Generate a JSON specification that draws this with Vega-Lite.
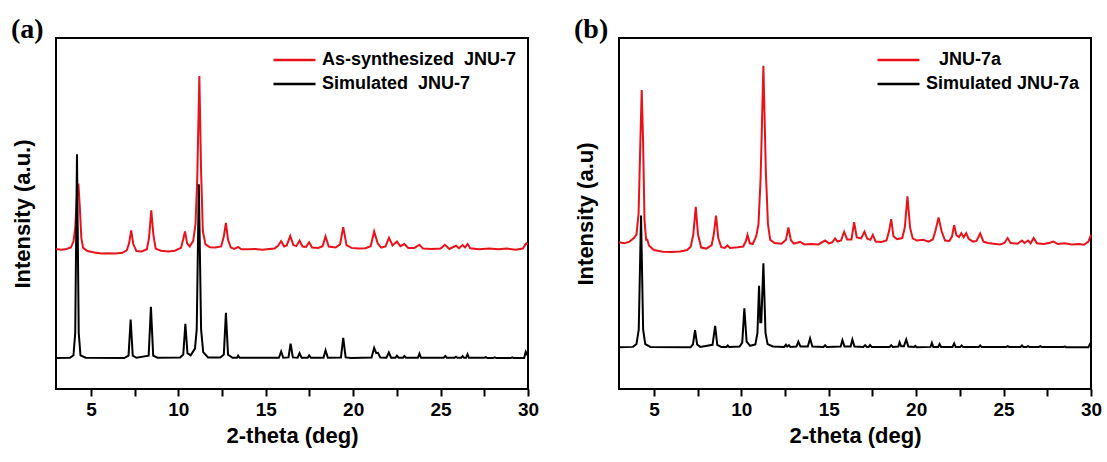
{
  "$schema": "https://vega.github.io/schema/vega-lite/v6.json",
  "padding": {"left": 10, "top": 15, "right": 5, "bottom": 5},
  "background": "white",
  "config": {
    "view": {"stroke": "black", "strokeWidth": 2},
    "font": "Liberation Sans",
    "axis": {"grid": false, "domain": false, "labelColor": "black", "titleColor": "black", "tickColor": "black", "labelFont": "Liberation Sans", "titleFont": "Liberation Sans"},
    "legend": {"orient": "top-right", "offset": 11, "symbolType": "stroke", "symbolSize": 1764, "symbolStrokeWidth": 2.5, "labelFontSize": 18, "labelFontWeight": "bold", "labelColor": "black", "labelOffset": 5, "clipHeight": 22, "rowPadding": 2, "padding": 0, "labelLimit": 400}
  },
  "datasets": {
    "a": [
      {"theta": 3.0, "intensity": 39.9, "series": "As-synthesized\u00a0\u00a0JNU-7"},
      {"theta": 3.3, "intensity": 39.7, "series": "As-synthesized\u00a0\u00a0JNU-7"},
      {"theta": 3.6, "intensity": 39.9, "series": "As-synthesized\u00a0\u00a0JNU-7"},
      {"theta": 3.85, "intensity": 40.3, "series": "As-synthesized\u00a0\u00a0JNU-7"},
      {"theta": 4.0, "intensity": 42.0, "series": "As-synthesized\u00a0\u00a0JNU-7"},
      {"theta": 4.1, "intensity": 46, "series": "As-synthesized\u00a0\u00a0JNU-7"},
      {"theta": 4.2, "intensity": 55, "series": "As-synthesized\u00a0\u00a0JNU-7"},
      {"theta": 4.28, "intensity": 58.5, "series": "As-synthesized\u00a0\u00a0JNU-7"},
      {"theta": 4.36, "intensity": 52, "series": "As-synthesized\u00a0\u00a0JNU-7"},
      {"theta": 4.45, "intensity": 43, "series": "As-synthesized\u00a0\u00a0JNU-7"},
      {"theta": 4.55, "intensity": 40.2, "series": "As-synthesized\u00a0\u00a0JNU-7"},
      {"theta": 4.8, "intensity": 39.3, "series": "As-synthesized\u00a0\u00a0JNU-7"},
      {"theta": 5.2, "intensity": 38.9, "series": "As-synthesized\u00a0\u00a0JNU-7"},
      {"theta": 5.6, "intensity": 38.6, "series": "As-synthesized\u00a0\u00a0JNU-7"},
      {"theta": 6.0, "intensity": 38.7, "series": "As-synthesized\u00a0\u00a0JNU-7"},
      {"theta": 6.4, "intensity": 38.6, "series": "As-synthesized\u00a0\u00a0JNU-7"},
      {"theta": 6.8, "intensity": 38.8, "series": "As-synthesized\u00a0\u00a0JNU-7"},
      {"theta": 7.05, "intensity": 39.5, "series": "As-synthesized\u00a0\u00a0JNU-7"},
      {"theta": 7.18, "intensity": 41.5, "series": "As-synthesized\u00a0\u00a0JNU-7"},
      {"theta": 7.3, "intensity": 45.2, "series": "As-synthesized\u00a0\u00a0JNU-7"},
      {"theta": 7.42, "intensity": 41.3, "series": "As-synthesized\u00a0\u00a0JNU-7"},
      {"theta": 7.6, "intensity": 39.3, "series": "As-synthesized\u00a0\u00a0JNU-7"},
      {"theta": 7.9, "intensity": 39.2, "series": "As-synthesized\u00a0\u00a0JNU-7"},
      {"theta": 8.2, "intensity": 39.8, "series": "As-synthesized\u00a0\u00a0JNU-7"},
      {"theta": 8.32, "intensity": 43, "series": "As-synthesized\u00a0\u00a0JNU-7"},
      {"theta": 8.45, "intensity": 50.9, "series": "As-synthesized\u00a0\u00a0JNU-7"},
      {"theta": 8.57, "intensity": 44, "series": "As-synthesized\u00a0\u00a0JNU-7"},
      {"theta": 8.7, "intensity": 40.0, "series": "As-synthesized\u00a0\u00a0JNU-7"},
      {"theta": 9.0, "intensity": 39.4, "series": "As-synthesized\u00a0\u00a0JNU-7"},
      {"theta": 9.4, "intensity": 39.2, "series": "As-synthesized\u00a0\u00a0JNU-7"},
      {"theta": 9.8, "intensity": 39.4, "series": "As-synthesized\u00a0\u00a0JNU-7"},
      {"theta": 10.15, "intensity": 40.2, "series": "As-synthesized\u00a0\u00a0JNU-7"},
      {"theta": 10.27, "intensity": 42.5, "series": "As-synthesized\u00a0\u00a0JNU-7"},
      {"theta": 10.38, "intensity": 44.9, "series": "As-synthesized\u00a0\u00a0JNU-7"},
      {"theta": 10.5, "intensity": 41.5, "series": "As-synthesized\u00a0\u00a0JNU-7"},
      {"theta": 10.65, "intensity": 40.6, "series": "As-synthesized\u00a0\u00a0JNU-7"},
      {"theta": 10.85, "intensity": 42.2, "series": "As-synthesized\u00a0\u00a0JNU-7"},
      {"theta": 10.98, "intensity": 47, "series": "As-synthesized\u00a0\u00a0JNU-7"},
      {"theta": 11.08, "intensity": 60, "series": "As-synthesized\u00a0\u00a0JNU-7"},
      {"theta": 11.2, "intensity": 89.2, "series": "As-synthesized\u00a0\u00a0JNU-7"},
      {"theta": 11.3, "intensity": 62, "series": "As-synthesized\u00a0\u00a0JNU-7"},
      {"theta": 11.4, "intensity": 45, "series": "As-synthesized\u00a0\u00a0JNU-7"},
      {"theta": 11.55, "intensity": 41.2, "series": "As-synthesized\u00a0\u00a0JNU-7"},
      {"theta": 11.8, "intensity": 40.4, "series": "As-synthesized\u00a0\u00a0JNU-7"},
      {"theta": 12.1, "intensity": 40.3, "series": "As-synthesized\u00a0\u00a0JNU-7"},
      {"theta": 12.45, "intensity": 40.6, "series": "As-synthesized\u00a0\u00a0JNU-7"},
      {"theta": 12.6, "intensity": 43.5, "series": "As-synthesized\u00a0\u00a0JNU-7"},
      {"theta": 12.72, "intensity": 47.3, "series": "As-synthesized\u00a0\u00a0JNU-7"},
      {"theta": 12.84, "intensity": 42.5, "series": "As-synthesized\u00a0\u00a0JNU-7"},
      {"theta": 13.0, "intensity": 40.3, "series": "As-synthesized\u00a0\u00a0JNU-7"},
      {"theta": 13.2, "intensity": 39.9, "series": "As-synthesized\u00a0\u00a0JNU-7"},
      {"theta": 13.42, "intensity": 40.5, "series": "As-synthesized\u00a0\u00a0JNU-7"},
      {"theta": 13.6, "intensity": 39.8, "series": "As-synthesized\u00a0\u00a0JNU-7"},
      {"theta": 14.0, "intensity": 39.8, "series": "As-synthesized\u00a0\u00a0JNU-7"},
      {"theta": 14.4, "intensity": 39.9, "series": "As-synthesized\u00a0\u00a0JNU-7"},
      {"theta": 14.8, "intensity": 39.7, "series": "As-synthesized\u00a0\u00a0JNU-7"},
      {"theta": 15.2, "intensity": 39.9, "series": "As-synthesized\u00a0\u00a0JNU-7"},
      {"theta": 15.5, "intensity": 40.0, "series": "As-synthesized\u00a0\u00a0JNU-7"},
      {"theta": 15.7, "intensity": 40.8, "series": "As-synthesized\u00a0\u00a0JNU-7"},
      {"theta": 15.88, "intensity": 42.1, "series": "As-synthesized\u00a0\u00a0JNU-7"},
      {"theta": 16.05, "intensity": 40.6, "series": "As-synthesized\u00a0\u00a0JNU-7"},
      {"theta": 16.2, "intensity": 40.9, "series": "As-synthesized\u00a0\u00a0JNU-7"},
      {"theta": 16.4, "intensity": 43.6, "series": "As-synthesized\u00a0\u00a0JNU-7"},
      {"theta": 16.58, "intensity": 41.0, "series": "As-synthesized\u00a0\u00a0JNU-7"},
      {"theta": 16.75, "intensity": 40.7, "series": "As-synthesized\u00a0\u00a0JNU-7"},
      {"theta": 16.93, "intensity": 42.3, "series": "As-synthesized\u00a0\u00a0JNU-7"},
      {"theta": 17.1, "intensity": 40.6, "series": "As-synthesized\u00a0\u00a0JNU-7"},
      {"theta": 17.3, "intensity": 40.5, "series": "As-synthesized\u00a0\u00a0JNU-7"},
      {"theta": 17.48, "intensity": 41.8, "series": "As-synthesized\u00a0\u00a0JNU-7"},
      {"theta": 17.65, "intensity": 40.3, "series": "As-synthesized\u00a0\u00a0JNU-7"},
      {"theta": 18.0, "intensity": 40.2, "series": "As-synthesized\u00a0\u00a0JNU-7"},
      {"theta": 18.25, "intensity": 40.7, "series": "As-synthesized\u00a0\u00a0JNU-7"},
      {"theta": 18.42, "intensity": 43.5, "series": "As-synthesized\u00a0\u00a0JNU-7"},
      {"theta": 18.6, "intensity": 40.6, "series": "As-synthesized\u00a0\u00a0JNU-7"},
      {"theta": 19.0, "intensity": 40.3, "series": "As-synthesized\u00a0\u00a0JNU-7"},
      {"theta": 19.25, "intensity": 41.2, "series": "As-synthesized\u00a0\u00a0JNU-7"},
      {"theta": 19.43, "intensity": 46.1, "series": "As-synthesized\u00a0\u00a0JNU-7"},
      {"theta": 19.62, "intensity": 41.0, "series": "As-synthesized\u00a0\u00a0JNU-7"},
      {"theta": 19.9, "intensity": 40.2, "series": "As-synthesized\u00a0\u00a0JNU-7"},
      {"theta": 20.3, "intensity": 40.0, "series": "As-synthesized\u00a0\u00a0JNU-7"},
      {"theta": 20.7, "intensity": 40.1, "series": "As-synthesized\u00a0\u00a0JNU-7"},
      {"theta": 21.0, "intensity": 40.7, "series": "As-synthesized\u00a0\u00a0JNU-7"},
      {"theta": 21.2, "intensity": 44.9, "series": "As-synthesized\u00a0\u00a0JNU-7"},
      {"theta": 21.4, "intensity": 41.5, "series": "As-synthesized\u00a0\u00a0JNU-7"},
      {"theta": 21.6, "intensity": 40.3, "series": "As-synthesized\u00a0\u00a0JNU-7"},
      {"theta": 21.85, "intensity": 40.6, "series": "As-synthesized\u00a0\u00a0JNU-7"},
      {"theta": 22.05, "intensity": 43.1, "series": "As-synthesized\u00a0\u00a0JNU-7"},
      {"theta": 22.25, "intensity": 40.9, "series": "As-synthesized\u00a0\u00a0JNU-7"},
      {"theta": 22.5, "intensity": 42.0, "series": "As-synthesized\u00a0\u00a0JNU-7"},
      {"theta": 22.7, "intensity": 40.7, "series": "As-synthesized\u00a0\u00a0JNU-7"},
      {"theta": 22.93, "intensity": 41.3, "series": "As-synthesized\u00a0\u00a0JNU-7"},
      {"theta": 23.15, "intensity": 40.2, "series": "As-synthesized\u00a0\u00a0JNU-7"},
      {"theta": 23.5, "intensity": 40.2, "series": "As-synthesized\u00a0\u00a0JNU-7"},
      {"theta": 23.79, "intensity": 41.1, "series": "As-synthesized\u00a0\u00a0JNU-7"},
      {"theta": 24.0, "intensity": 40.0, "series": "As-synthesized\u00a0\u00a0JNU-7"},
      {"theta": 24.5, "intensity": 39.9, "series": "As-synthesized\u00a0\u00a0JNU-7"},
      {"theta": 25.0, "intensity": 40.0, "series": "As-synthesized\u00a0\u00a0JNU-7"},
      {"theta": 25.25, "intensity": 41.1, "series": "As-synthesized\u00a0\u00a0JNU-7"},
      {"theta": 25.5, "intensity": 39.9, "series": "As-synthesized\u00a0\u00a0JNU-7"},
      {"theta": 25.88, "intensity": 40.8, "series": "As-synthesized\u00a0\u00a0JNU-7"},
      {"theta": 26.05, "intensity": 40.1, "series": "As-synthesized\u00a0\u00a0JNU-7"},
      {"theta": 26.26, "intensity": 41.0, "series": "As-synthesized\u00a0\u00a0JNU-7"},
      {"theta": 26.4, "intensity": 40.3, "series": "As-synthesized\u00a0\u00a0JNU-7"},
      {"theta": 26.54, "intensity": 41.3, "series": "As-synthesized\u00a0\u00a0JNU-7"},
      {"theta": 26.7, "intensity": 40.1, "series": "As-synthesized\u00a0\u00a0JNU-7"},
      {"theta": 27.2, "intensity": 39.8, "series": "As-synthesized\u00a0\u00a0JNU-7"},
      {"theta": 27.8, "intensity": 40.0, "series": "As-synthesized\u00a0\u00a0JNU-7"},
      {"theta": 28.3, "intensity": 39.8, "series": "As-synthesized\u00a0\u00a0JNU-7"},
      {"theta": 28.8, "intensity": 40.0, "series": "As-synthesized\u00a0\u00a0JNU-7"},
      {"theta": 29.3, "intensity": 39.7, "series": "As-synthesized\u00a0\u00a0JNU-7"},
      {"theta": 29.7, "intensity": 40.0, "series": "As-synthesized\u00a0\u00a0JNU-7"},
      {"theta": 29.9, "intensity": 41.5, "series": "As-synthesized\u00a0\u00a0JNU-7"},
      {"theta": 30.0, "intensity": 41.2, "series": "As-synthesized\u00a0\u00a0JNU-7"},
      {"theta": 3.0, "intensity": 8.8, "series": "Simulated\u00a0\u00a0JNU-7"},
      {"theta": 3.8, "intensity": 8.9, "series": "Simulated\u00a0\u00a0JNU-7"},
      {"theta": 4.0, "intensity": 9.6, "series": "Simulated\u00a0\u00a0JNU-7"},
      {"theta": 4.1, "intensity": 16, "series": "Simulated\u00a0\u00a0JNU-7"},
      {"theta": 4.2, "intensity": 66.9, "series": "Simulated\u00a0\u00a0JNU-7"},
      {"theta": 4.3, "intensity": 16, "series": "Simulated\u00a0\u00a0JNU-7"},
      {"theta": 4.4, "intensity": 9.6, "series": "Simulated\u00a0\u00a0JNU-7"},
      {"theta": 4.7, "intensity": 8.9, "series": "Simulated\u00a0\u00a0JNU-7"},
      {"theta": 6.9, "intensity": 8.8, "series": "Simulated\u00a0\u00a0JNU-7"},
      {"theta": 7.15, "intensity": 9.5, "series": "Simulated\u00a0\u00a0JNU-7"},
      {"theta": 7.27, "intensity": 19.8, "series": "Simulated\u00a0\u00a0JNU-7"},
      {"theta": 7.39, "intensity": 9.5, "series": "Simulated\u00a0\u00a0JNU-7"},
      {"theta": 7.6, "intensity": 8.9, "series": "Simulated\u00a0\u00a0JNU-7"},
      {"theta": 8.3, "intensity": 9.5, "series": "Simulated\u00a0\u00a0JNU-7"},
      {"theta": 8.43, "intensity": 23.4, "series": "Simulated\u00a0\u00a0JNU-7"},
      {"theta": 8.56, "intensity": 9.5, "series": "Simulated\u00a0\u00a0JNU-7"},
      {"theta": 8.8, "intensity": 8.9, "series": "Simulated\u00a0\u00a0JNU-7"},
      {"theta": 10.1, "intensity": 9.0, "series": "Simulated\u00a0\u00a0JNU-7"},
      {"theta": 10.28, "intensity": 9.8, "series": "Simulated\u00a0\u00a0JNU-7"},
      {"theta": 10.4, "intensity": 18.6, "series": "Simulated\u00a0\u00a0JNU-7"},
      {"theta": 10.52, "intensity": 10.2, "series": "Simulated\u00a0\u00a0JNU-7"},
      {"theta": 10.7, "intensity": 9.6, "series": "Simulated\u00a0\u00a0JNU-7"},
      {"theta": 10.95, "intensity": 11.5, "series": "Simulated\u00a0\u00a0JNU-7"},
      {"theta": 11.05, "intensity": 17, "series": "Simulated\u00a0\u00a0JNU-7"},
      {"theta": 11.17, "intensity": 58.3, "series": "Simulated\u00a0\u00a0JNU-7"},
      {"theta": 11.3, "intensity": 17, "series": "Simulated\u00a0\u00a0JNU-7"},
      {"theta": 11.42, "intensity": 10.5, "series": "Simulated\u00a0\u00a0JNU-7"},
      {"theta": 11.7, "intensity": 9.0, "series": "Simulated\u00a0\u00a0JNU-7"},
      {"theta": 12.4, "intensity": 9.0, "series": "Simulated\u00a0\u00a0JNU-7"},
      {"theta": 12.6, "intensity": 9.8, "series": "Simulated\u00a0\u00a0JNU-7"},
      {"theta": 12.72, "intensity": 21.7, "series": "Simulated\u00a0\u00a0JNU-7"},
      {"theta": 12.84, "intensity": 9.8, "series": "Simulated\u00a0\u00a0JNU-7"},
      {"theta": 13.1, "intensity": 8.9, "series": "Simulated\u00a0\u00a0JNU-7"},
      {"theta": 13.35, "intensity": 8.9, "series": "Simulated\u00a0\u00a0JNU-7"},
      {"theta": 13.42, "intensity": 9.5, "series": "Simulated\u00a0\u00a0JNU-7"},
      {"theta": 13.5, "intensity": 8.9, "series": "Simulated\u00a0\u00a0JNU-7"},
      {"theta": 15.75, "intensity": 8.9, "series": "Simulated\u00a0\u00a0JNU-7"},
      {"theta": 15.88, "intensity": 10.7, "series": "Simulated\u00a0\u00a0JNU-7"},
      {"theta": 16.0, "intensity": 8.9, "series": "Simulated\u00a0\u00a0JNU-7"},
      {"theta": 16.3, "intensity": 9.0, "series": "Simulated\u00a0\u00a0JNU-7"},
      {"theta": 16.42, "intensity": 12.9, "series": "Simulated\u00a0\u00a0JNU-7"},
      {"theta": 16.55, "intensity": 9.0, "series": "Simulated\u00a0\u00a0JNU-7"},
      {"theta": 16.82, "intensity": 8.9, "series": "Simulated\u00a0\u00a0JNU-7"},
      {"theta": 16.93, "intensity": 10.2, "series": "Simulated\u00a0\u00a0JNU-7"},
      {"theta": 17.05, "intensity": 8.9, "series": "Simulated\u00a0\u00a0JNU-7"},
      {"theta": 17.4, "intensity": 8.9, "series": "Simulated\u00a0\u00a0JNU-7"},
      {"theta": 17.48, "intensity": 9.6, "series": "Simulated\u00a0\u00a0JNU-7"},
      {"theta": 17.58, "intensity": 8.9, "series": "Simulated\u00a0\u00a0JNU-7"},
      {"theta": 18.3, "intensity": 8.9, "series": "Simulated\u00a0\u00a0JNU-7"},
      {"theta": 18.42, "intensity": 11.0, "series": "Simulated\u00a0\u00a0JNU-7"},
      {"theta": 18.55, "intensity": 8.9, "series": "Simulated\u00a0\u00a0JNU-7"},
      {"theta": 19.3, "intensity": 9.0, "series": "Simulated\u00a0\u00a0JNU-7"},
      {"theta": 19.43, "intensity": 14.6, "series": "Simulated\u00a0\u00a0JNU-7"},
      {"theta": 19.57, "intensity": 9.0, "series": "Simulated\u00a0\u00a0JNU-7"},
      {"theta": 19.9, "intensity": 8.8, "series": "Simulated\u00a0\u00a0JNU-7"},
      {"theta": 21.05, "intensity": 9.0, "series": "Simulated\u00a0\u00a0JNU-7"},
      {"theta": 21.2, "intensity": 11.7, "series": "Simulated\u00a0\u00a0JNU-7"},
      {"theta": 21.32, "intensity": 10.2, "series": "Simulated\u00a0\u00a0JNU-7"},
      {"theta": 21.42, "intensity": 10.3, "series": "Simulated\u00a0\u00a0JNU-7"},
      {"theta": 21.55, "intensity": 9.0, "series": "Simulated\u00a0\u00a0JNU-7"},
      {"theta": 21.9, "intensity": 8.9, "series": "Simulated\u00a0\u00a0JNU-7"},
      {"theta": 22.04, "intensity": 10.4, "series": "Simulated\u00a0\u00a0JNU-7"},
      {"theta": 22.17, "intensity": 8.9, "series": "Simulated\u00a0\u00a0JNU-7"},
      {"theta": 22.42, "intensity": 8.9, "series": "Simulated\u00a0\u00a0JNU-7"},
      {"theta": 22.5, "intensity": 9.5, "series": "Simulated\u00a0\u00a0JNU-7"},
      {"theta": 22.6, "intensity": 8.9, "series": "Simulated\u00a0\u00a0JNU-7"},
      {"theta": 22.85, "intensity": 8.9, "series": "Simulated\u00a0\u00a0JNU-7"},
      {"theta": 22.93, "intensity": 9.4, "series": "Simulated\u00a0\u00a0JNU-7"},
      {"theta": 23.02, "intensity": 8.9, "series": "Simulated\u00a0\u00a0JNU-7"},
      {"theta": 23.7, "intensity": 8.9, "series": "Simulated\u00a0\u00a0JNU-7"},
      {"theta": 23.79, "intensity": 10.1, "series": "Simulated\u00a0\u00a0JNU-7"},
      {"theta": 23.88, "intensity": 8.9, "series": "Simulated\u00a0\u00a0JNU-7"},
      {"theta": 25.18, "intensity": 8.9, "series": "Simulated\u00a0\u00a0JNU-7"},
      {"theta": 25.27, "intensity": 9.4, "series": "Simulated\u00a0\u00a0JNU-7"},
      {"theta": 25.36, "intensity": 8.9, "series": "Simulated\u00a0\u00a0JNU-7"},
      {"theta": 25.8, "intensity": 8.9, "series": "Simulated\u00a0\u00a0JNU-7"},
      {"theta": 25.88, "intensity": 9.2, "series": "Simulated\u00a0\u00a0JNU-7"},
      {"theta": 25.96, "intensity": 8.9, "series": "Simulated\u00a0\u00a0JNU-7"},
      {"theta": 26.18, "intensity": 8.9, "series": "Simulated\u00a0\u00a0JNU-7"},
      {"theta": 26.26, "intensity": 9.4, "series": "Simulated\u00a0\u00a0JNU-7"},
      {"theta": 26.34, "intensity": 8.9, "series": "Simulated\u00a0\u00a0JNU-7"},
      {"theta": 26.46, "intensity": 8.9, "series": "Simulated\u00a0\u00a0JNU-7"},
      {"theta": 26.54, "intensity": 9.9, "series": "Simulated\u00a0\u00a0JNU-7"},
      {"theta": 26.62, "intensity": 8.9, "series": "Simulated\u00a0\u00a0JNU-7"},
      {"theta": 27.5, "intensity": 8.9, "series": "Simulated\u00a0\u00a0JNU-7"},
      {"theta": 27.59, "intensity": 9.1, "series": "Simulated\u00a0\u00a0JNU-7"},
      {"theta": 27.68, "intensity": 8.8, "series": "Simulated\u00a0\u00a0JNU-7"},
      {"theta": 28.0, "intensity": 8.8, "series": "Simulated\u00a0\u00a0JNU-7"},
      {"theta": 28.1, "intensity": 9.0, "series": "Simulated\u00a0\u00a0JNU-7"},
      {"theta": 28.2, "intensity": 8.8, "series": "Simulated\u00a0\u00a0JNU-7"},
      {"theta": 29.02, "intensity": 8.8, "series": "Simulated\u00a0\u00a0JNU-7"},
      {"theta": 29.1, "intensity": 9.0, "series": "Simulated\u00a0\u00a0JNU-7"},
      {"theta": 29.18, "intensity": 8.8, "series": "Simulated\u00a0\u00a0JNU-7"},
      {"theta": 29.78, "intensity": 8.8, "series": "Simulated\u00a0\u00a0JNU-7"},
      {"theta": 29.87, "intensity": 10.6, "series": "Simulated\u00a0\u00a0JNU-7"},
      {"theta": 30.0, "intensity": 9.4, "series": "Simulated\u00a0\u00a0JNU-7"}
    ],
    "b": [
      {"theta": 3.0, "intensity": 41.8, "series": "JNU-7a"},
      {"theta": 3.3, "intensity": 41.5, "series": "JNU-7a"},
      {"theta": 3.6, "intensity": 42.0, "series": "JNU-7a"},
      {"theta": 3.85, "intensity": 43.0, "series": "JNU-7a"},
      {"theta": 4.0, "intensity": 44, "series": "JNU-7a"},
      {"theta": 4.12, "intensity": 50, "series": "JNU-7a"},
      {"theta": 4.22, "intensity": 70, "series": "JNU-7a"},
      {"theta": 4.3, "intensity": 85.2, "series": "JNU-7a"},
      {"theta": 4.38, "intensity": 70, "series": "JNU-7a"},
      {"theta": 4.46, "intensity": 48, "series": "JNU-7a"},
      {"theta": 4.55, "intensity": 42.5, "series": "JNU-7a"},
      {"theta": 4.62, "intensity": 42.5, "series": "JNU-7a"},
      {"theta": 4.72, "intensity": 40.8, "series": "JNU-7a"},
      {"theta": 5.0, "intensity": 39.6, "series": "JNU-7a"},
      {"theta": 5.5, "intensity": 39.1, "series": "JNU-7a"},
      {"theta": 6.0, "intensity": 39.0, "series": "JNU-7a"},
      {"theta": 6.5, "intensity": 39.2, "series": "JNU-7a"},
      {"theta": 6.9, "intensity": 39.6, "series": "JNU-7a"},
      {"theta": 7.1, "intensity": 40.5, "series": "JNU-7a"},
      {"theta": 7.25, "intensity": 44, "series": "JNU-7a"},
      {"theta": 7.39, "intensity": 51.9, "series": "JNU-7a"},
      {"theta": 7.52, "intensity": 44, "series": "JNU-7a"},
      {"theta": 7.7, "intensity": 40.3, "series": "JNU-7a"},
      {"theta": 8.0, "intensity": 40.0, "series": "JNU-7a"},
      {"theta": 8.3, "intensity": 41, "series": "JNU-7a"},
      {"theta": 8.42, "intensity": 44, "series": "JNU-7a"},
      {"theta": 8.55, "intensity": 49.4, "series": "JNU-7a"},
      {"theta": 8.68, "intensity": 43, "series": "JNU-7a"},
      {"theta": 8.85, "intensity": 40.4, "series": "JNU-7a"},
      {"theta": 9.05, "intensity": 40.2, "series": "JNU-7a"},
      {"theta": 9.2, "intensity": 40.9, "series": "JNU-7a"},
      {"theta": 9.35, "intensity": 40.2, "series": "JNU-7a"},
      {"theta": 9.8, "intensity": 40.4, "series": "JNU-7a"},
      {"theta": 10.1, "intensity": 40.6, "series": "JNU-7a"},
      {"theta": 10.25, "intensity": 42.0, "series": "JNU-7a"},
      {"theta": 10.35, "intensity": 43.9, "series": "JNU-7a"},
      {"theta": 10.48, "intensity": 41.5, "series": "JNU-7a"},
      {"theta": 10.65, "intensity": 41.3, "series": "JNU-7a"},
      {"theta": 10.85, "intensity": 43.5, "series": "JNU-7a"},
      {"theta": 10.98, "intensity": 47, "series": "JNU-7a"},
      {"theta": 11.1, "intensity": 60, "series": "JNU-7a"},
      {"theta": 11.26, "intensity": 92.1, "series": "JNU-7a"},
      {"theta": 11.4, "intensity": 62, "series": "JNU-7a"},
      {"theta": 11.52, "intensity": 47, "series": "JNU-7a"},
      {"theta": 11.65, "intensity": 42.5, "series": "JNU-7a"},
      {"theta": 11.9, "intensity": 41.6, "series": "JNU-7a"},
      {"theta": 12.3, "intensity": 41.4, "series": "JNU-7a"},
      {"theta": 12.55, "intensity": 42.5, "series": "JNU-7a"},
      {"theta": 12.69, "intensity": 46.0, "series": "JNU-7a"},
      {"theta": 12.83, "intensity": 42.4, "series": "JNU-7a"},
      {"theta": 13.0, "intensity": 41.4, "series": "JNU-7a"},
      {"theta": 13.36, "intensity": 41.9, "series": "JNU-7a"},
      {"theta": 13.6, "intensity": 41.2, "series": "JNU-7a"},
      {"theta": 14.0, "intensity": 41.3, "series": "JNU-7a"},
      {"theta": 14.4, "intensity": 41.2, "series": "JNU-7a"},
      {"theta": 14.79, "intensity": 42.3, "series": "JNU-7a"},
      {"theta": 15.0, "intensity": 41.5, "series": "JNU-7a"},
      {"theta": 15.2, "intensity": 41.8, "series": "JNU-7a"},
      {"theta": 15.36, "intensity": 42.9, "series": "JNU-7a"},
      {"theta": 15.5, "intensity": 42.0, "series": "JNU-7a"},
      {"theta": 15.7, "intensity": 42.3, "series": "JNU-7a"},
      {"theta": 15.88, "intensity": 44.8, "series": "JNU-7a"},
      {"theta": 16.05, "intensity": 42.6, "series": "JNU-7a"},
      {"theta": 16.3, "intensity": 42.6, "series": "JNU-7a"},
      {"theta": 16.45, "intensity": 47.5, "series": "JNU-7a"},
      {"theta": 16.6, "intensity": 43.2, "series": "JNU-7a"},
      {"theta": 16.85, "intensity": 42.9, "series": "JNU-7a"},
      {"theta": 17.04, "intensity": 44.8, "series": "JNU-7a"},
      {"theta": 17.2, "intensity": 42.8, "series": "JNU-7a"},
      {"theta": 17.38, "intensity": 42.5, "series": "JNU-7a"},
      {"theta": 17.52, "intensity": 43.9, "series": "JNU-7a"},
      {"theta": 17.68, "intensity": 42.0, "series": "JNU-7a"},
      {"theta": 18.0, "intensity": 41.9, "series": "JNU-7a"},
      {"theta": 18.3, "intensity": 42.3, "series": "JNU-7a"},
      {"theta": 18.45, "intensity": 45.0, "series": "JNU-7a"},
      {"theta": 18.57, "intensity": 48.4, "series": "JNU-7a"},
      {"theta": 18.7, "intensity": 43.5, "series": "JNU-7a"},
      {"theta": 18.9, "intensity": 42.7, "series": "JNU-7a"},
      {"theta": 19.2, "intensity": 43.0, "series": "JNU-7a"},
      {"theta": 19.35, "intensity": 46, "series": "JNU-7a"},
      {"theta": 19.5, "intensity": 54.9, "series": "JNU-7a"},
      {"theta": 19.65, "intensity": 46, "series": "JNU-7a"},
      {"theta": 19.8, "intensity": 42.9, "series": "JNU-7a"},
      {"theta": 20.04, "intensity": 42.3, "series": "JNU-7a"},
      {"theta": 20.4, "intensity": 42.5, "series": "JNU-7a"},
      {"theta": 20.7, "intensity": 42.0, "series": "JNU-7a"},
      {"theta": 20.95, "intensity": 42.6, "series": "JNU-7a"},
      {"theta": 21.1, "intensity": 45, "series": "JNU-7a"},
      {"theta": 21.28, "intensity": 48.9, "series": "JNU-7a"},
      {"theta": 21.45, "intensity": 45, "series": "JNU-7a"},
      {"theta": 21.65, "intensity": 42.3, "series": "JNU-7a"},
      {"theta": 21.9, "intensity": 42.2, "series": "JNU-7a"},
      {"theta": 22.05, "intensity": 43.5, "series": "JNU-7a"},
      {"theta": 22.17, "intensity": 46.7, "series": "JNU-7a"},
      {"theta": 22.3, "intensity": 43.8, "series": "JNU-7a"},
      {"theta": 22.45, "intensity": 43.3, "series": "JNU-7a"},
      {"theta": 22.58, "intensity": 44.4, "series": "JNU-7a"},
      {"theta": 22.72, "intensity": 43.2, "series": "JNU-7a"},
      {"theta": 22.86, "intensity": 44.4, "series": "JNU-7a"},
      {"theta": 23.0, "intensity": 42.8, "series": "JNU-7a"},
      {"theta": 23.25, "intensity": 42.0, "series": "JNU-7a"},
      {"theta": 23.45, "intensity": 42.2, "series": "JNU-7a"},
      {"theta": 23.66, "intensity": 44.3, "series": "JNU-7a"},
      {"theta": 23.85, "intensity": 42.0, "series": "JNU-7a"},
      {"theta": 24.1, "intensity": 41.6, "series": "JNU-7a"},
      {"theta": 24.43, "intensity": 41.4, "series": "JNU-7a"},
      {"theta": 24.8, "intensity": 41.2, "series": "JNU-7a"},
      {"theta": 25.05, "intensity": 41.6, "series": "JNU-7a"},
      {"theta": 25.23, "intensity": 43.0, "series": "JNU-7a"},
      {"theta": 25.4, "intensity": 41.6, "series": "JNU-7a"},
      {"theta": 25.8, "intensity": 41.4, "series": "JNU-7a"},
      {"theta": 26.05, "intensity": 42.3, "series": "JNU-7a"},
      {"theta": 26.2, "intensity": 41.6, "series": "JNU-7a"},
      {"theta": 26.4, "intensity": 42.3, "series": "JNU-7a"},
      {"theta": 26.55, "intensity": 41.5, "series": "JNU-7a"},
      {"theta": 26.72, "intensity": 43.0, "series": "JNU-7a"},
      {"theta": 26.9, "intensity": 41.5, "series": "JNU-7a"},
      {"theta": 27.3, "intensity": 41.3, "series": "JNU-7a"},
      {"theta": 27.6, "intensity": 41.6, "series": "JNU-7a"},
      {"theta": 27.86, "intensity": 42.0, "series": "JNU-7a"},
      {"theta": 28.1, "intensity": 41.3, "series": "JNU-7a"},
      {"theta": 28.5, "intensity": 41.5, "series": "JNU-7a"},
      {"theta": 28.9, "intensity": 41.2, "series": "JNU-7a"},
      {"theta": 29.3, "intensity": 41.3, "series": "JNU-7a"},
      {"theta": 29.6, "intensity": 41.1, "series": "JNU-7a"},
      {"theta": 29.85, "intensity": 42.0, "series": "JNU-7a"},
      {"theta": 30.0, "intensity": 43.9, "series": "JNU-7a"},
      {"theta": 3.0, "intensity": 11.9, "series": "Simulated JNU-7a"},
      {"theta": 3.8, "intensity": 12.0, "series": "Simulated JNU-7a"},
      {"theta": 4.0, "intensity": 12.8, "series": "Simulated JNU-7a"},
      {"theta": 4.13, "intensity": 17, "series": "Simulated JNU-7a"},
      {"theta": 4.26, "intensity": 49.4, "series": "Simulated JNU-7a"},
      {"theta": 4.38, "intensity": 17, "series": "Simulated JNU-7a"},
      {"theta": 4.5, "intensity": 12.8, "series": "Simulated JNU-7a"},
      {"theta": 4.8, "intensity": 12.0, "series": "Simulated JNU-7a"},
      {"theta": 7.1, "intensity": 11.9, "series": "Simulated JNU-7a"},
      {"theta": 7.23, "intensity": 12.7, "series": "Simulated JNU-7a"},
      {"theta": 7.35, "intensity": 16.8, "series": "Simulated JNU-7a"},
      {"theta": 7.47, "intensity": 12.7, "series": "Simulated JNU-7a"},
      {"theta": 7.65, "intensity": 12.0, "series": "Simulated JNU-7a"},
      {"theta": 8.35, "intensity": 12.6, "series": "Simulated JNU-7a"},
      {"theta": 8.5, "intensity": 18.0, "series": "Simulated JNU-7a"},
      {"theta": 8.62, "intensity": 12.6, "series": "Simulated JNU-7a"},
      {"theta": 8.85, "intensity": 12.0, "series": "Simulated JNU-7a"},
      {"theta": 9.15, "intensity": 12.0, "series": "Simulated JNU-7a"},
      {"theta": 9.22, "intensity": 12.4, "series": "Simulated JNU-7a"},
      {"theta": 9.3, "intensity": 12.0, "series": "Simulated JNU-7a"},
      {"theta": 9.9, "intensity": 12.1, "series": "Simulated JNU-7a"},
      {"theta": 10.05, "intensity": 13.2, "series": "Simulated JNU-7a"},
      {"theta": 10.17, "intensity": 23.0, "series": "Simulated JNU-7a"},
      {"theta": 10.3, "intensity": 13.5, "series": "Simulated JNU-7a"},
      {"theta": 10.5, "intensity": 12.3, "series": "Simulated JNU-7a"},
      {"theta": 10.8, "intensity": 12.7, "series": "Simulated JNU-7a"},
      {"theta": 10.92, "intensity": 16, "series": "Simulated JNU-7a"},
      {"theta": 11.01, "intensity": 29.4, "series": "Simulated JNU-7a"},
      {"theta": 11.08, "intensity": 19, "series": "Simulated JNU-7a"},
      {"theta": 11.14, "intensity": 19, "series": "Simulated JNU-7a"},
      {"theta": 11.26, "intensity": 35.8, "series": "Simulated JNU-7a"},
      {"theta": 11.38, "intensity": 16, "series": "Simulated JNU-7a"},
      {"theta": 11.5, "intensity": 12.8, "series": "Simulated JNU-7a"},
      {"theta": 11.8, "intensity": 12.1, "series": "Simulated JNU-7a"},
      {"theta": 12.45, "intensity": 12.0, "series": "Simulated JNU-7a"},
      {"theta": 12.55, "intensity": 12.6, "series": "Simulated JNU-7a"},
      {"theta": 12.62, "intensity": 12.1, "series": "Simulated JNU-7a"},
      {"theta": 12.72, "intensity": 12.5, "series": "Simulated JNU-7a"},
      {"theta": 12.8, "intensity": 12.0, "series": "Simulated JNU-7a"},
      {"theta": 13.15, "intensity": 12.1, "series": "Simulated JNU-7a"},
      {"theta": 13.26, "intensity": 13.5, "series": "Simulated JNU-7a"},
      {"theta": 13.38, "intensity": 12.1, "series": "Simulated JNU-7a"},
      {"theta": 13.8, "intensity": 12.1, "series": "Simulated JNU-7a"},
      {"theta": 13.93, "intensity": 14.4, "series": "Simulated JNU-7a"},
      {"theta": 14.06, "intensity": 12.1, "series": "Simulated JNU-7a"},
      {"theta": 14.7, "intensity": 12.0, "series": "Simulated JNU-7a"},
      {"theta": 14.79, "intensity": 12.5, "series": "Simulated JNU-7a"},
      {"theta": 14.88, "intensity": 12.0, "series": "Simulated JNU-7a"},
      {"theta": 15.68, "intensity": 12.1, "series": "Simulated JNU-7a"},
      {"theta": 15.78, "intensity": 13.9, "series": "Simulated JNU-7a"},
      {"theta": 15.9, "intensity": 12.1, "series": "Simulated JNU-7a"},
      {"theta": 16.25, "intensity": 12.1, "series": "Simulated JNU-7a"},
      {"theta": 16.35, "intensity": 14.1, "series": "Simulated JNU-7a"},
      {"theta": 16.47, "intensity": 12.1, "series": "Simulated JNU-7a"},
      {"theta": 16.98, "intensity": 12.0, "series": "Simulated JNU-7a"},
      {"theta": 17.08, "intensity": 12.5, "series": "Simulated JNU-7a"},
      {"theta": 17.18, "intensity": 12.0, "series": "Simulated JNU-7a"},
      {"theta": 17.28, "intensity": 12.0, "series": "Simulated JNU-7a"},
      {"theta": 17.36, "intensity": 12.5, "series": "Simulated JNU-7a"},
      {"theta": 17.46, "intensity": 12.0, "series": "Simulated JNU-7a"},
      {"theta": 18.48, "intensity": 12.0, "series": "Simulated JNU-7a"},
      {"theta": 18.57, "intensity": 12.5, "series": "Simulated JNU-7a"},
      {"theta": 18.66, "intensity": 12.0, "series": "Simulated JNU-7a"},
      {"theta": 18.98, "intensity": 12.1, "series": "Simulated JNU-7a"},
      {"theta": 19.05, "intensity": 13.3, "series": "Simulated JNU-7a"},
      {"theta": 19.14, "intensity": 12.2, "series": "Simulated JNU-7a"},
      {"theta": 19.3, "intensity": 12.2, "series": "Simulated JNU-7a"},
      {"theta": 19.43, "intensity": 14.1, "series": "Simulated JNU-7a"},
      {"theta": 19.55, "intensity": 12.1, "series": "Simulated JNU-7a"},
      {"theta": 19.88, "intensity": 12.0, "series": "Simulated JNU-7a"},
      {"theta": 19.95, "intensity": 12.3, "series": "Simulated JNU-7a"},
      {"theta": 20.02, "intensity": 11.9, "series": "Simulated JNU-7a"},
      {"theta": 20.82, "intensity": 12.0, "series": "Simulated JNU-7a"},
      {"theta": 20.9, "intensity": 13.1, "series": "Simulated JNU-7a"},
      {"theta": 20.98, "intensity": 12.0, "series": "Simulated JNU-7a"},
      {"theta": 21.26, "intensity": 12.0, "series": "Simulated JNU-7a"},
      {"theta": 21.34, "intensity": 12.8, "series": "Simulated JNU-7a"},
      {"theta": 21.42, "intensity": 12.0, "series": "Simulated JNU-7a"},
      {"theta": 22.08, "intensity": 12.0, "series": "Simulated JNU-7a"},
      {"theta": 22.17, "intensity": 13.0, "series": "Simulated JNU-7a"},
      {"theta": 22.26, "intensity": 12.0, "series": "Simulated JNU-7a"},
      {"theta": 22.52, "intensity": 12.0, "series": "Simulated JNU-7a"},
      {"theta": 22.6, "intensity": 12.4, "series": "Simulated JNU-7a"},
      {"theta": 22.68, "intensity": 12.0, "series": "Simulated JNU-7a"},
      {"theta": 23.58, "intensity": 12.0, "series": "Simulated JNU-7a"},
      {"theta": 23.66, "intensity": 12.4, "series": "Simulated JNU-7a"},
      {"theta": 23.74, "intensity": 12.0, "series": "Simulated JNU-7a"},
      {"theta": 25.15, "intensity": 12.0, "series": "Simulated JNU-7a"},
      {"theta": 25.23, "intensity": 12.2, "series": "Simulated JNU-7a"},
      {"theta": 25.31, "intensity": 12.0, "series": "Simulated JNU-7a"},
      {"theta": 25.97, "intensity": 12.0, "series": "Simulated JNU-7a"},
      {"theta": 26.05, "intensity": 12.4, "series": "Simulated JNU-7a"},
      {"theta": 26.13, "intensity": 12.0, "series": "Simulated JNU-7a"},
      {"theta": 26.32, "intensity": 12.0, "series": "Simulated JNU-7a"},
      {"theta": 26.4, "intensity": 12.2, "series": "Simulated JNU-7a"},
      {"theta": 26.48, "intensity": 12.0, "series": "Simulated JNU-7a"},
      {"theta": 27.02, "intensity": 12.0, "series": "Simulated JNU-7a"},
      {"theta": 27.1, "intensity": 12.2, "series": "Simulated JNU-7a"},
      {"theta": 27.18, "intensity": 12.0, "series": "Simulated JNU-7a"},
      {"theta": 28.42, "intensity": 12.0, "series": "Simulated JNU-7a"},
      {"theta": 28.5, "intensity": 12.1, "series": "Simulated JNU-7a"},
      {"theta": 28.58, "intensity": 11.9, "series": "Simulated JNU-7a"},
      {"theta": 29.85, "intensity": 11.9, "series": "Simulated JNU-7a"},
      {"theta": 30.0, "intensity": 13.3, "series": "Simulated JNU-7a"}
    ]
  },
  "spacing": 33,
  "resolve": {"scale": {"color": "independent"}, "legend": {"color": "independent"}},
  "hconcat": [
    {
      "title": {"text": "(a)", "anchor": "start", "frame": "bounds", "offset": -6, "font": "Liberation Serif", "fontSize": 28, "fontWeight": "bold", "color": "black"},
      "width": 472,
      "height": 351,
      "data": {"name": "a"},
      "mark": {"type": "line", "strokeWidth": 2},
      "encoding": {
        "x": {"field": "theta", "type": "quantitative", "scale": {"domain": [3, 30], "nice": false, "zero": false},
          "axis": {"title": "2-theta (deg)", "values": [5, 7.5, 10, 12.5, 15, 17.5, 20, 22.5, 25, 27.5, 30], "labelExpr": "datum.value % 5 === 0 ? datum.label : ''", "tickSize": 7, "tickWidth": 2, "labelFontSize": 19, "labelFontWeight": "bold", "labelPadding": 4, "labelFlush": false, "titleFontSize": 22, "titleFontWeight": "bold", "titlePadding": 6,
            "encode": {"ticks": {"update": {"y2": {"signal": "datum.value % 5 === 0 ? 7 : 4"}}}}}},
        "y": {"field": "intensity", "type": "quantitative", "scale": {"domain": [0, 100], "nice": false},
          "axis": {"title": "Intensity (a.u.)", "labels": false, "ticks": false, "titleFontSize": 22, "titleFontWeight": "bold", "titlePadding": 22}},
        "color": {"field": "series", "type": "nominal", "scale": {"domain": ["As-synthesized\u00a0\u00a0JNU-7", "Simulated\u00a0\u00a0JNU-7"], "range": ["#e8121a", "#000000"]}, "legend": {"title": null}},
        "order": {"field": "theta", "type": "quantitative"}
      }
    },
    {
      "title": {"text": "(b)", "anchor": "start", "frame": "bounds", "offset": -6, "font": "Liberation Serif", "fontSize": 28, "fontWeight": "bold", "color": "black"},
      "width": 472,
      "height": 351,
      "data": {"name": "b"},
      "mark": {"type": "line", "strokeWidth": 2},
      "encoding": {
        "x": {"field": "theta", "type": "quantitative", "scale": {"domain": [3, 30], "nice": false, "zero": false},
          "axis": {"title": "2-theta (deg)", "values": [5, 7.5, 10, 12.5, 15, 17.5, 20, 22.5, 25, 27.5, 30], "labelExpr": "datum.value % 5 === 0 ? datum.label : ''", "tickSize": 7, "tickWidth": 2, "labelFontSize": 19, "labelFontWeight": "bold", "labelPadding": 4, "labelFlush": false, "titleFontSize": 22, "titleFontWeight": "bold", "titlePadding": 6,
            "encode": {"ticks": {"update": {"y2": {"signal": "datum.value % 5 === 0 ? 7 : 4"}}}}}},
        "y": {"field": "intensity", "type": "quantitative", "scale": {"domain": [0, 100], "nice": false},
          "axis": {"title": "Intensity (a.u)", "labels": false, "ticks": false, "titleFontSize": 22, "titleFontWeight": "bold", "titlePadding": 22}},
        "color": {"field": "series", "type": "nominal", "scale": {"domain": ["JNU-7a", "Simulated JNU-7a"], "range": ["#e8121a", "#000000"]},
          "legend": {"title": null, "encode": {"labels": {"update": {"dx": {"signal": "datum.index === 0 ? 13 : 0"}}}}}},
        "order": {"field": "theta", "type": "quantitative"}
      }
    }
  ]
}
